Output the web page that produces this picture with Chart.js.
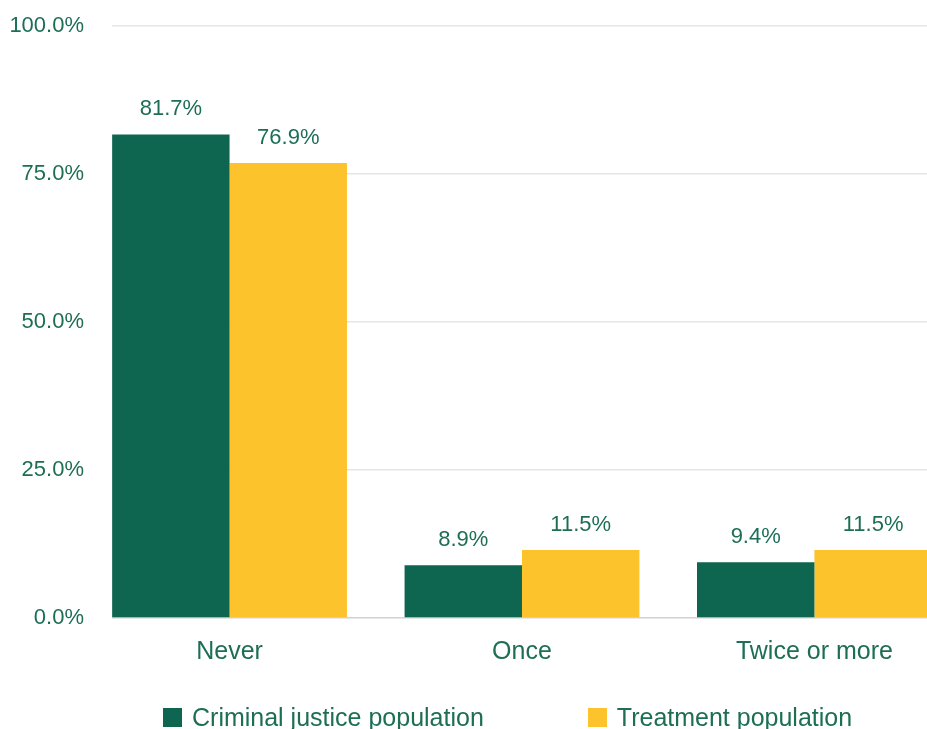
<!DOCTYPE html>
<html>
<head>
<meta charset="utf-8">
<script src="https://cdn.jsdelivr.net/npm/chart.js@4.4.1/dist/chart.umd.min.js"></script>
<style>
	html, body { margin: 0; padding: 0; background: #fff; }
	.wrap { position: relative; width: 927px; height: 729px; overflow: hidden; }
	canvas { position: absolute; left: 0; top: -15px; }
	.legend {
		position: absolute; left: 163px; top: 703px; white-space: nowrap;
		display: flex; align-items: center;
		font-family: 'Liberation Sans', Arial, sans-serif; font-size: 25px; color: #1e6e56;
	}
	.legend span.item { display: flex; align-items: center; margin-right: 104px; white-space: nowrap; }
	.legend i { display: inline-block; flex: none; width: 19px; height: 19px; margin-right: 10px; }
</style>
</head>
<body>
<div class="wrap">
	<canvas id="chart" width="927" height="744"></canvas>
	<div class="legend" id="legend"></div>
</div>
<script>
const categories = ['Never', 'Once', 'Twice or more'];
const criminalJustice = [81.7, 8.9, 9.4];
const treatment = [76.9, 11.5, 11.5];
const yTicks = [0, 25, 50, 75, 100];

const green = '#0e6650';
const yellow = '#fcc32c';
const textColor = '#1e6e56';

const toPoints = (values) => values.map((y, x) => ({ x, y }));

const valueLabels = {
	id: 'valueLabels',
	afterDatasetsDraw(chart) {
		const { ctx } = chart;
		ctx.save();
		ctx.font = '22px "Liberation Sans", sans-serif';
		ctx.fillStyle = textColor;
		ctx.textAlign = 'center';
		ctx.textBaseline = 'alphabetic';
		chart.data.datasets.forEach((dataset, i) => {
			chart.getDatasetMeta(i).data.forEach((bar, j) => {
				ctx.fillText(dataset.data[j].y.toFixed(1) + '%', bar.x, bar.y - 19);
			});
		});
		ctx.restore();
	},
};

const chart = new Chart(document.getElementById('chart'), {
	type: 'bar',
	data: {
		datasets: [
			{ label: 'Criminal justice population', data: toPoints(criminalJustice), backgroundColor: green },
			{ label: 'Treatment population', data: toPoints(treatment), backgroundColor: yellow },
		],
	},
	options: {
		responsive: false,
		animation: false,
		layout: { padding: { top: 7, right: 0, left: 0, bottom: 0 } },
		datasets: { bar: { categoryPercentage: 0.803, barPercentage: 1 } },
		plugins: { legend: { display: false }, tooltip: { enabled: false } },
		scales: {
			x: {
				type: 'linear',
				offset: false,
				min: -0.402,
				max: 2.385,
				grid: { display: false, offset: false },
				border: { display: false },
				afterFit: (scale) => { scale.height = 111; },
				ticks: {
					stepSize: 1,
					includeBounds: false,
					autoSkip: false,
					maxRotation: 0,
					padding: 11,
					color: textColor,
					font: { family: 'Liberation Sans', size: 25 },
					callback: (v) => categories[v] ?? '',
				},
			},
			y: {
				min: 0,
				max: 100,
				afterFit: (scale) => { scale.width = 112; },
				afterBuildTicks: (scale) => { scale.ticks = yTicks.map((value) => ({ value })); },
				border: { display: false },
				grid: {
					drawTicks: false,
					lineWidth: 1.5,
					color: (ctx) => (ctx.tick && ctx.tick.value === 0 ? '#d2d2d2' : '#e6e6e6'),
				},
				ticks: {
					padding: 28,
					color: textColor,
					font: { family: 'Liberation Sans', size: 22 },
					callback: (v) => v.toFixed(1) + '%',
				},
			},
		},
	},
	plugins: [valueLabels],
});

const legendEl = document.getElementById('legend');
chart.data.datasets.forEach((dataset) => {
	const item = document.createElement('span');
	item.className = 'item';
	const box = document.createElement('i');
	box.style.background = dataset.backgroundColor;
	item.appendChild(box);
	item.appendChild(document.createTextNode(dataset.label));
	legendEl.appendChild(item);
});
</script>
</body>
</html>
